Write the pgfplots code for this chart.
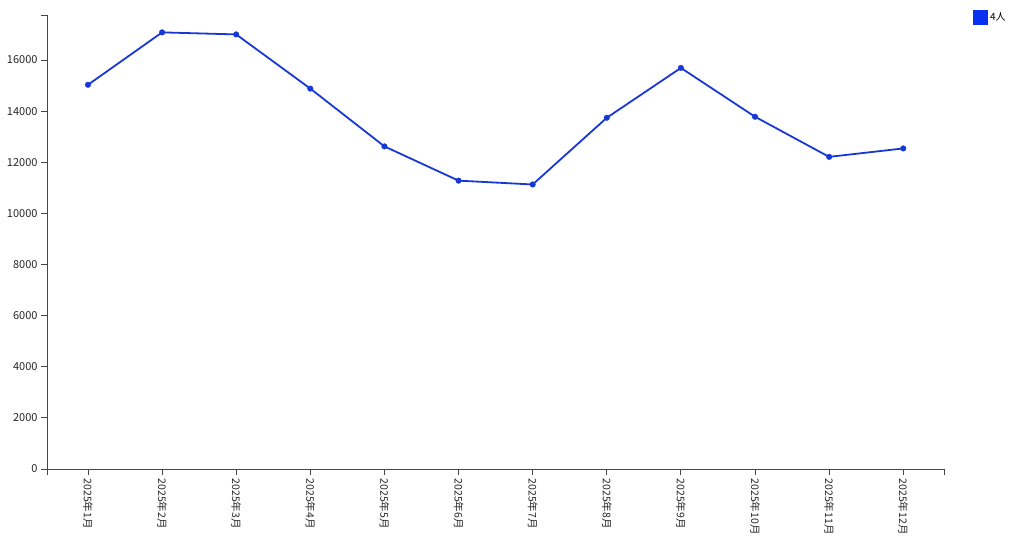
\documentclass[border=0pt]{standalone}
\usepackage{fontspec}
\setmainfont{Noto Sans CJK JP}
\usepackage{pgfplots}
\pgfplotsset{compat=1.18}
\definecolor{linec}{RGB}{24,56,214}
\definecolor{legc}{RGB}{8,48,240}
\definecolor{axc}{RGB}{70,70,70}
\begin{document}
\begin{tikzpicture}
\begin{axis}[
  name=ax,
  scale only axis,
  width=897pt, height=454pt,
  xmin=-0.553, xmax=11.55,
  ymin=0, ymax=17760,
  axis x line*=bottom, axis y line*=left,
  axis line style={axc, line width=0.9pt, -},
  xtick={0,...,11},
  xticklabels={2025年1月,2025年2月,2025年3月,2025年4月,2025年5月,2025年6月,2025年7月,2025年8月,2025年9月,2025年10月,2025年11月,2025年12月},
  extra x ticks={-0.553,11.55}, extra x tick labels={},
  extra y ticks={17760}, extra y tick labels={},
  ytick={0,2000,...,16000},
  tick align=outside,
  major tick length=6pt,
  tick style={axc, line width=0.9pt},
  x tick label style={rotate=-90, anchor=west, font=\fontsize{10.5}{11}\selectfont, text=black!85},
  y tick label style={font=\fontsize{11}{12}\selectfont, text=black!85},
  /pgf/number format/assume math mode=true,
  scaled y ticks=false,
  yticklabel={\pgfmathprintnumber[fixed,1000 sep={}]{\tick}},
  legend style={at={(rel axis cs:1,1)}, anchor=north west, xshift=27pt, yshift=7pt, draw=none, fill=none, font=\fontsize{10}{11}\selectfont, inner sep=2pt},
  legend image code/.code={\fill[legc] (0pt,-6.5pt) rectangle (13pt,6.5pt);},
  clip=false,
]
\addplot[linec, line width=1.8pt, mark=*, mark size=2.8pt, mark options={solid, fill=linec, draw=linec, line width=0.4pt}] coordinates {
(0,15030) (1,17080) (2,17000) (3,14880) (4,12620) (5,11280) (6,11130) (7,13740) (8,15690) (9,13780) (10,12210) (11,12540)
};
\addlegendentry{4人}
\end{axis}
\pgfresetboundingbox
\useasboundingbox ([xshift=-47pt,yshift=-72pt]ax.south west) rectangle ([xshift=80pt,yshift=15pt]ax.north east);
\end{tikzpicture}
\end{document}
